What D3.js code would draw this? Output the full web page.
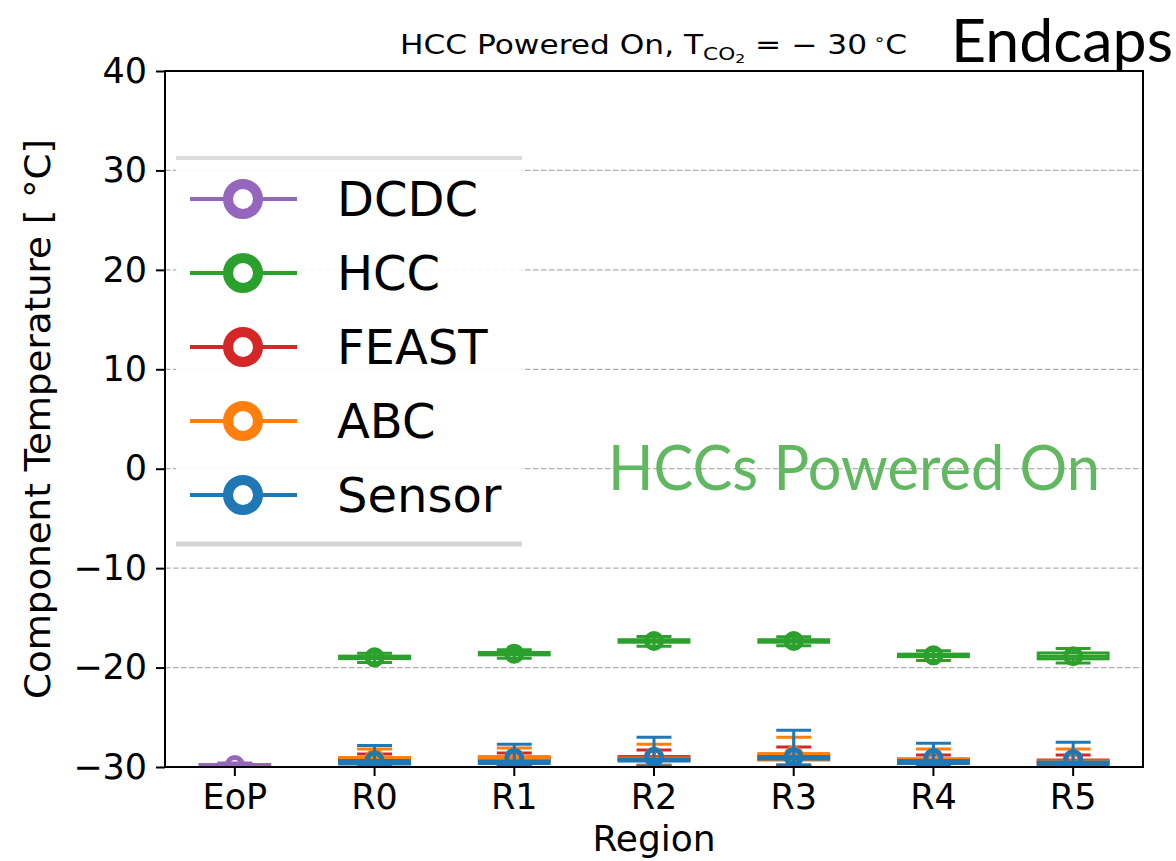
<!DOCTYPE html>
<html>
<head>
<meta charset="utf-8">
<script src="https://cdn.jsdelivr.net/npm/d3@7"></script>
<style>
  body { margin: 0; background: #fff; }
  svg { display: block; font-family: "DejaVu Sans", sans-serif; }
</style>
</head>
<body>
<div id="chart"></div>
<script>
//////////////////////////////////////////////
// Data //////////////////////////////////////
//////////////////////////////////////////////
var regions = ["EoP", "R0", "R1", "R2", "R3", "R4", "R5"];
var yTickValues = [-30, -20, -10, 0, 10, 20, 30, 40];
var gridValues = [-20, -10, 0, 10, 20, 30];

var seriesNames = ["DCDC", "HCC", "FEAST", "ABC", "Sensor"];
var seriesColors = ["#9467bd", "#2ca02c", "#d62728", "#ff7f0e", "#1f77b4"];

// per region: [low whisker, q1, median, q3, high whisker, mean], null = no data
var dcdcStats = [
  [-30.4, -30.2, -30.0, -29.75, -29.6, -29.8],
  null, null, null, null, null, null
];
var hccStats = [
  null,
  [-19.5, -19.1, -18.97, -18.85, -18.55, -18.97],
  [-19.05, -18.72, -18.6, -18.48, -18.2, -18.6],
  [-17.85, -17.45, -17.33, -17.2, -16.88, -17.33],
  [-17.8, -17.45, -17.33, -17.2, -16.9, -17.33],
  [-19.3, -18.9, -18.77, -18.65, -18.3, -18.77],
  [-19.55, -19.12, -18.85, -18.53, -18.08, -18.85]
];
var feastStats = [
  null,
  [-29.9, -29.45, -29.3, -29.15, -28.7, -29.3],
  [-29.9, -29.35, -29.2, -29.05, -28.6, -29.15],
  [-29.9, -29.25, -29.1, -28.95, -28.3, -29.0],
  [-29.9, -29.2, -29.07, -28.9, -28.0, -28.95],
  [-29.95, -29.5, -29.35, -29.2, -28.8, -29.25],
  [-29.95, -29.6, -29.45, -29.3, -28.8, -29.35]
];
var abcStats = [
  null,
  [-29.7, -29.3, -29.2, -29.05, -28.2, -29.15],
  [-29.7, -29.2, -29.1, -28.95, -28.1, -29.05],
  [-29.8, -29.3, -29.2, -29.1, -27.7, -29.0],
  [-29.8, -29.3, -28.9, -28.65, -27.0, -28.85],
  [-29.9, -29.5, -29.35, -29.2, -28.2, -29.2],
  [-29.9, -29.65, -29.5, -29.4, -28.2, -29.3]
];
var sensorStats = [
  null,
  [-29.95, -29.7, -29.5, -29.35, -27.85, -29.35],
  [-29.95, -29.65, -29.5, -29.4, -27.7, -29.1],
  [-29.9, -29.4, -29.3, -29.2, -27.0, -29.0],
  [-29.8, -29.2, -29.05, -28.95, -26.3, -29.0],
  [-29.95, -29.65, -29.5, -29.35, -27.6, -29.1],
  [-29.95, -29.75, -29.6, -29.5, -27.5, -29.2]
];
var allStats = [dcdcStats, hccStats, feastStats, abcStats, sensorStats];

//////////////////////////////////////////////
// Chart Config //////////////////////////////
//////////////////////////////////////////////
var W = 1176, H = 861;
var plot = {left: 165, right: 1143, top: 71, bottom: 767};

var xScale = d3.scaleBand().domain(regions).range([plot.left, plot.right]);
var yScale = d3.scaleLinear().domain([-30, 40]).range([plot.bottom, plot.top]);
var boxW = xScale.bandwidth() * 0.5;
var capW = boxW * 0.5;
function cx(r) { return xScale(r) + xScale.bandwidth() / 2; }

var svg = d3.select("#chart").append("svg")
    .attr("width", W).attr("height", H);

svg.append("clipPath").attr("id", "plotclip")
  .append("rect")
    .attr("x", plot.left).attr("y", plot.top)
    .attr("width", plot.right - plot.left).attr("height", plot.bottom - plot.top);

// grid
svg.append("g").selectAll("line").data(gridValues).join("line")
    .attr("x1", plot.left).attr("x2", plot.right)
    .attr("y1", d => yScale(d)).attr("y2", d => yScale(d))
    .attr("stroke", "#b0b0b0").attr("stroke-width", 1.3)
    .attr("stroke-dasharray", "5.5,2.5");

//////////////////////////////////////////////
// Boxes /////////////////////////////////////
//////////////////////////////////////////////
var marks = svg.append("g").attr("clip-path", "url(#plotclip)");

allStats.forEach(function(stats, si) {
  var col = seriesColors[si];
  var rows = [];
  stats.forEach(function(s, i) { if (s) rows.push({r: regions[i], s: s}); });
  var g = marks.append("g").attr("stroke", col).attr("fill", "none").attr("stroke-width", 3);

  // whiskers
  g.selectAll(".wlo").data(rows).join("line")
      .attr("x1", d => cx(d.r)).attr("x2", d => cx(d.r))
      .attr("y1", d => yScale(d.s[1])).attr("y2", d => yScale(d.s[0]));
  g.selectAll(".whi").data(rows).join("line")
      .attr("x1", d => cx(d.r)).attr("x2", d => cx(d.r))
      .attr("y1", d => yScale(d.s[3])).attr("y2", d => yScale(d.s[4]));
  // caps
  [0, 4].forEach(function(k) {
    g.selectAll(".cap" + k).data(rows).join("line")
        .attr("x1", d => cx(d.r) - capW / 2).attr("x2", d => cx(d.r) + capW / 2)
        .attr("y1", d => yScale(d.s[k])).attr("y2", d => yScale(d.s[k]));
  });
  // box
  g.selectAll("rect").data(rows).join("rect")
      .attr("x", d => cx(d.r) - boxW / 2).attr("width", boxW)
      .attr("y", d => yScale(d.s[3]))
      .attr("height", d => yScale(d.s[1]) - yScale(d.s[3]));
  // median
  g.selectAll(".med").data(rows).join("line")
      .attr("x1", d => cx(d.r) - boxW / 2).attr("x2", d => cx(d.r) + boxW / 2)
      .attr("y1", d => yScale(d.s[2])).attr("y2", d => yScale(d.s[2]));
  // mean marker
  g.selectAll("circle").data(rows).join("circle")
      .attr("cx", d => cx(d.r)).attr("cy", d => yScale(d.s[5]))
      .attr("r", 7.5).attr("stroke-width", 5);
});

//////////////////////////////////////////////
// Axes //////////////////////////////////////
//////////////////////////////////////////////
var yAxis = d3.axisLeft(yScale).tickValues(yTickValues).tickSize(9).tickPadding(9);
var xAxis = d3.axisBottom(xScale).tickSize(9).tickPadding(8);

var yAxisEl = svg.append("g").attr("transform", "translate(" + plot.left + ",0)").call(yAxis);
var xAxisEl = svg.append("g").attr("transform", "translate(0," + plot.bottom + ")").call(xAxis);
[xAxisEl, yAxisEl].forEach(function(a) {
  a.select(".domain").remove();
  a.selectAll(".tick line").attr("stroke", "#000").attr("stroke-width", 2);
  a.selectAll("text").attr("font-family", "DejaVu Sans").attr("font-size", 35).attr("fill", "#000");
});

svg.append("rect")
    .attr("x", plot.left).attr("y", plot.top)
    .attr("width", plot.right - plot.left).attr("height", plot.bottom - plot.top)
    .attr("fill", "none").attr("stroke", "#000").attr("stroke-width", 2);

svg.append("text")
    .attr("transform", "translate(50," + ((plot.top + plot.bottom) / 2) + ") rotate(-90)")
    .attr("text-anchor", "middle")
    .attr("font-size", 36)
    .attr("textLength", 560).attr("lengthAdjust", "spacingAndGlyphs")
    .text("Component Temperature [ °C]");

svg.append("text")
    .attr("x", (plot.left + plot.right) / 2).attr("y", 851)
    .attr("text-anchor", "middle")
    .attr("font-size", 36)
    .text("Region");

// title
var title = svg.append("text")
    .attr("x", 400).attr("y", 54)
    .attr("font-size", 26)
    .attr("textLength", 507).attr("lengthAdjust", "spacingAndGlyphs");
title.append("tspan").text("HCC Powered On, T");
title.append("tspan").attr("font-size", 18).attr("dy", 6).text("CO");
title.append("tspan").attr("font-size", 13).attr("dy", 3).text("2");
title.append("tspan").attr("dy", -9).text(" = \u2212 30");
title.append("tspan").attr("font-size", 16).attr("dy", -9).text(" \u2218");
title.append("tspan").attr("dy", 9).text("C");

svg.append("text")
    .attr("x", 951).attr("y", 62)
    .attr("font-family", "Lato, sans-serif")
    .attr("font-size", 60)
    .attr("textLength", 222).attr("lengthAdjust", "spacingAndGlyphs")
    .text("Endcaps");

svg.append("text")
    .attr("x", 608).attr("y", 490)
    .attr("font-family", "Lato, sans-serif")
    .attr("font-size", 62)
    .attr("fill", "#61b861")
    .attr("textLength", 492).attr("lengthAdjust", "spacingAndGlyphs")
    .text("HCCs Powered On");

//////////////////////////////////////////////
// Legend ////////////////////////////////////
//////////////////////////////////////////////
var legend = svg.append("g");
legend.append("rect")
    .attr("x", 176).attr("y", 156).attr("width", 346).attr("height", 389)
    .attr("fill", "#fff").attr("fill-opacity", 0.9);
legend.append("line").attr("x1", 176).attr("x2", 522).attr("y1", 158).attr("y2", 158)
    .attr("stroke", "#dcdcdc").attr("stroke-width", 4);
legend.append("line").attr("x1", 176).attr("x2", 522).attr("y1", 544).attr("y2", 544)
    .attr("stroke", "#d4d4d4").attr("stroke-width", 5);

var rowsL = legend.selectAll(".item").data(seriesNames).join("g")
    .attr("transform", (d, i) => "translate(0," + (199 + i * 74) + ")");
rowsL.append("line").attr("x1", 190).attr("x2", 297)
    .attr("stroke", (d, i) => seriesColors[i]).attr("stroke-width", 4);
rowsL.append("circle").attr("cx", 243).attr("r", 15)
    .attr("fill", "#fff").attr("stroke", (d, i) => seriesColors[i]).attr("stroke-width", 10);
rowsL.append("text").attr("x", 337).attr("y", 17)
    .attr("font-size", 48).text(d => d);
</script>
</body>
</html>
